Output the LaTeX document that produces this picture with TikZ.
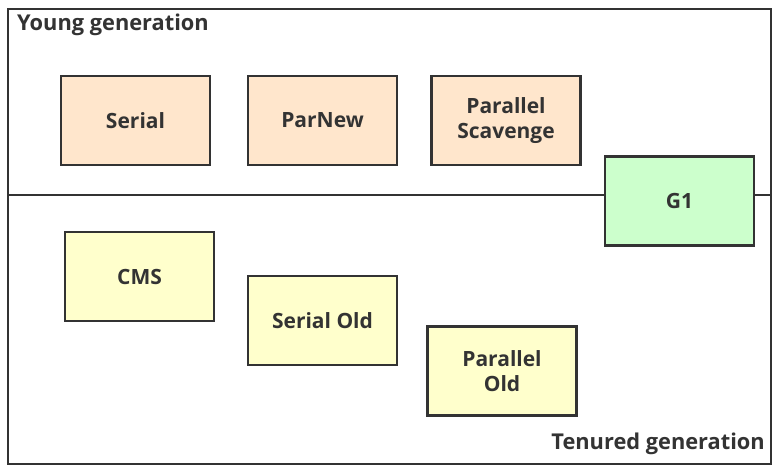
\documentclass[tikz,border=0pt]{standalone}
\usepackage{fontspec}
\setmainfont{Open Sans}
\begin{document}
\begin{tikzpicture}[x=1pt,y=-1pt,
  edge/.style={draw=black!80, line width=2.2pt},
  gcbox/.style={draw=black!80, line width=2.2pt, minimum width=149pt, minimum height=89pt,
    align=center, font=\fontsize{21}{25}\selectfont\bfseries, text=black!80, inner sep=0pt},
  young/.style={gcbox, fill={rgb,255:red,255;green,230;blue,204}},
  old/.style={gcbox, fill={rgb,255:red,255;green,255;blue,204}},
  both/.style={gcbox, fill={rgb,255:red,204;green,255;blue,204}},
  title/.style={font=\fontsize{21.8}{24}\selectfont\bfseries, text=black!80, inner sep=0pt}]
\useasboundingbox (0,0) rectangle (782,474);
% heap frame and generation divider
\draw[edge] (8,9) rectangle (771,464);
\coordinate (dl) at (8,195);
\coordinate (dr) at (771,195);
\draw[edge] (dl) -- (dr);
\node[title, anchor=base west] (yg) at (17,30) {Young generation};
\node[title, anchor=base east] (tg) at (765,449) {Tenured generation};
% young generation collectors
\node[young] (serial) at (135.5,120.5) {Serial};
\node[young] (parnew) at (322.5,120.5) {ParNew};
\node[young] (ps) at (506,120.5) {Parallel\\Scavenge};
% whole-heap collector
\node[both] (g1) at (679.5,201) {G1};
% tenured generation collectors
\node[old] (cms) at (139.5,276.5) {CMS};
\node[old] (so) at (322.5,320.5) {Serial Old};
\node[old] (po) at (502,371) {Parallel\\Old};
\end{tikzpicture}
\end{document}
